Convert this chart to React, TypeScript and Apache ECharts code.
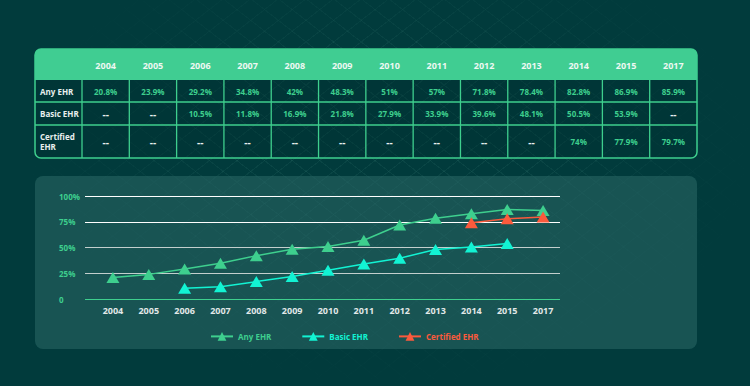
import React, { useEffect, useRef } from 'react';
import * as echarts from 'echarts';

const years = ['2004', '2005', '2006', '2007', '2008', '2009', '2010', '2011', '2012', '2013', '2014', '2015', '2017'];
const anyEHR: (number | null)[] = [20.8, 23.9, 29.2, 34.8, 42, 48.3, 51, 57, 71.8, 78.4, 82.8, 86.9, 85.9];
const basicEHR: (number | null)[] = [null, null, 10.5, 11.8, 16.9, 21.8, 27.9, 33.9, 39.6, 48.1, 50.5, 53.9, null];
const certifiedEHR: (number | null)[] = [null, null, null, null, null, null, null, null, null, null, 74, 77.9, 79.7];
const seriesNames = ['Any EHR', 'Basic EHR', 'Certified EHR'];
const rowLabels = [['Any EHR'], ['Basic EHR'], ['Certified', 'EHR']];
const yTicks = [0, 25, 50, 75, 100];

const GREEN = '#3ecf8e';
const CYAN = '#12f3d3';
const ORANGE = '#fb5a3c';
const FONT = '"Open Sans", "DejaVu Sans", sans-serif';

function txt(text: string, x: number, y: number, fill: string, size: number, align = 'center') {
  return {
    type: 'text',
    z: 5,
    style: {
      text, x, y, fill,
      font: `bold ${size}px ${FONT}`,
      textAlign: align, align,
      textVerticalAlign: 'middle', verticalAlign: 'middle',
    },
  };
}

function buildTable() {
  const TX = 35, TY = 49, TW = 662, TB = 158, HB = 80;
  const rowB = [HB, 102, 125, TB];
  const firstW = 47;
  const colW = (TW - firstW) / years.length;
  const els: any[] = [];
  els.push({ type: 'rect', z: 1, shape: { x: TX, y: TY, width: TW, height: TB - TY, r: 6 }, style: { fill: 'rgba(0,45,45,0.35)', stroke: GREEN, lineWidth: 1.5 } });
  els.push({ type: 'rect', z: 2, shape: { x: TX, y: TY, width: TW, height: HB - TY, r: [6, 6, 0, 0] }, style: { fill: '#40cd92' } });
  for (let r = 1; r < rowB.length - 1; r++) {
    els.push({ type: 'line', z: 3, shape: { x1: TX, y1: rowB[r], x2: TX + TW, y2: rowB[r] }, style: { stroke: GREEN, lineWidth: 1.3 } });
  }
  for (let c = 0; c < years.length; c++) {
    const x = TX + firstW + c * colW;
    els.push({ type: 'line', z: 3, shape: { x1: x, y1: HB, x2: x, y2: TB }, style: { stroke: GREEN, lineWidth: 1.3 } });
    els.push(txt(years[c], x + colW / 2, 65, '#eef8f2', 9));
  }
  const rows = [anyEHR, basicEHR, certifiedEHR];
  rows.forEach((vals, r) => {
    const cy = (rowB[r] + rowB[r + 1]) / 2;
    const lab = rowLabels[r];
    if (lab.length === 1) els.push(txt(lab[0], 40, cy, '#e8efee', 8, 'left'));
    else {
      els.push(txt(lab[0], 40, cy - 5, '#e8efee', 8, 'left'));
      els.push(txt(lab[1], 40, cy + 5, '#e8efee', 8, 'left'));
    }
    vals.forEach((v, c) => {
      const x = TX + firstW + c * colW + colW / 2;
      if (v == null) els.push(txt('--', x, cy, '#e8efee', 10));
      else els.push(txt(v + '%', x, cy, GREEN, 8));
    });
  });
  // chart panel
  els.push({ type: 'rect', z: -10, shape: { x: 35, y: 176, width: 662, height: 173, r: 8 }, style: { fill: 'rgba(38,100,98,0.62)' } });
  return els;
}

export default function App() {
  const ref = useRef<HTMLDivElement>(null);
  useEffect(() => {
    document.body.style.margin = '0';
    const chart = echarts.init(ref.current!, undefined, { renderer: 'svg' });
    const PLOT_TOP = 196, PLOT_BOTTOM = 386 - 299;
    chart.setOption({
      animation: false,
      backgroundColor: 'transparent',
      graphic: buildTable(),
      grid: [
        { left: 85, right: 190, top: PLOT_TOP, bottom: PLOT_BOTTOM },
        { left: 95, right: 189, top: PLOT_TOP, bottom: PLOT_BOTTOM },
      ],
      xAxis: [
        { gridIndex: 0, type: 'value', min: 0, max: 1, show: false },
        {
          gridIndex: 1, type: 'category', data: years, boundaryGap: true,
          axisLine: { show: false }, axisTick: { show: false },
          axisLabel: { color: '#e2e8e8', fontSize: 9, fontWeight: 'bold', fontFamily: FONT, margin: 7, interval: 0 },
        },
      ],
      yAxis: [
        {
          gridIndex: 0, type: 'value', min: yTicks[0], max: yTicks[yTicks.length - 1], interval: 25,
          axisLine: { show: false }, axisTick: { show: false },
          axisLabel: {
            color: GREEN, fontSize: 8, fontWeight: 'bold', fontFamily: FONT, align: 'left', margin: 26,
            formatter: (v: number) => (v === 0 ? '0' : v + '%'),
          },
          splitLine: { show: true, lineStyle: { color: [GREEN, '#c3cfcd', '#c3cfcd', '#ffffff', '#ffffff'], width: 1.2 } },
        },
        { gridIndex: 1, type: 'value', min: 0, max: 100, show: false },
      ],
      legend: {
        left: 205, top: 327, itemWidth: 22, itemHeight: 11, itemGap: 30,
        textStyle: { fontSize: 8, fontWeight: 'bold', fontFamily: FONT },
        data: [
          { name: seriesNames[0], textStyle: { color: GREEN } },
          { name: seriesNames[1], textStyle: { color: CYAN } },
          { name: seriesNames[2], textStyle: { color: ORANGE } },
        ],
      },
      series: [
        { name: seriesNames[0], data: anyEHR, color: GREEN },
        { name: seriesNames[1], data: basicEHR, color: CYAN },
        { name: seriesNames[2], data: certifiedEHR, color: ORANGE },
      ].map((s) => ({
        ...s,
        type: 'line', xAxisIndex: 1, yAxisIndex: 1,
        symbol: 'triangle', symbolSize: [13, 11], showSymbol: true,
        lineStyle: { width: 1.5, color: s.color }, itemStyle: { color: s.color },
        connectNulls: false,
      })),
    });
    return () => chart.dispose();
  }, []);
  const line = 'rgba(120,200,180,0.07)';
  return (
    <div
      style={{
        position: 'fixed', left: 0, top: 0, width: 750, height: 386,
        backgroundColor: '#013b3c',
        backgroundImage: `radial-gradient(ellipse 48% 60% at 52% 40%, rgba(1,59,60,0) 40%, rgba(1,59,60,1) 100%), repeating-linear-gradient(38deg, ${line} 0px, ${line} 1px, transparent 1px, transparent 17px), repeating-linear-gradient(-38deg, ${line} 0px, ${line} 1px, transparent 1px, transparent 17px)`,
      }}
    >
      <div ref={ref} style={{ width: 750, height: 386 }} />
    </div>
  );
}
